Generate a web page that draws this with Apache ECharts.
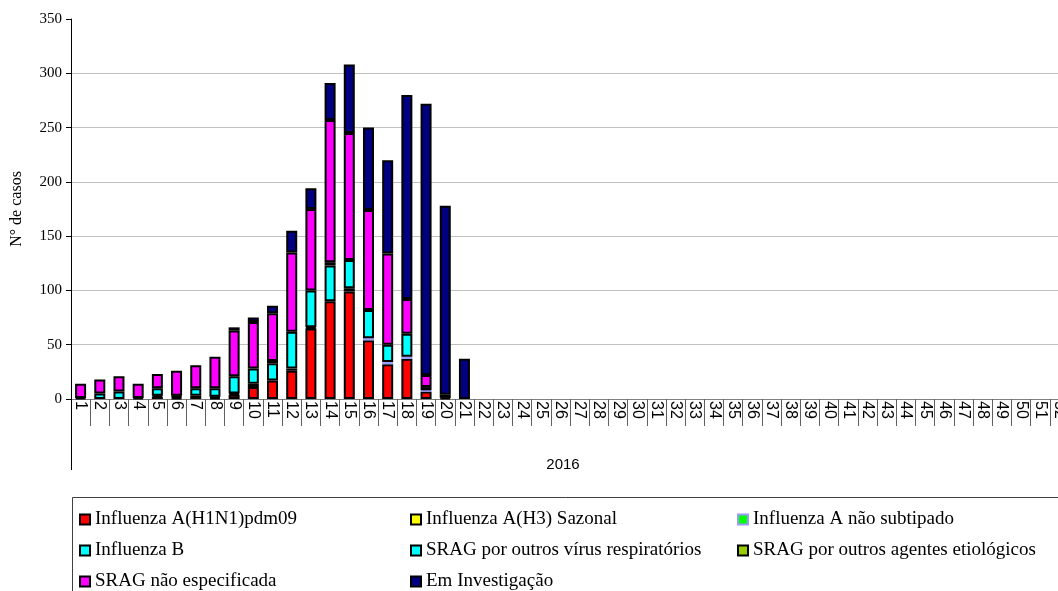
<!DOCTYPE html>
<html>
<head>
<meta charset="utf-8">
<script src="https://cdn.jsdelivr.net/npm/echarts@6/dist/echarts.min.js"></script>
<style>
html, body { margin: 0; padding: 0; background: #fff; }
#casosChart { width: 1058px; height: 591px; }
</style>
</head>
<body>
<div id="casosChart"></div>
<script>
// semanas epidemiologicas
var semanas = ['1','2','3','4','5','6','7','8','9','10','11','12','13','14','15','16','17','18','19','20',
    '21','22','23','24','25','26','27','28','29','30','31','32','33','34','35','36','37','38','39','40',
    '41','42','43','44','45','46','47','48','49','50','51','52'];
var anos = ['2016'];

// casos por semana (semanas 1-21)
var h1n1      = [1, 0, 0, 0, 2, 1, 3, 1, 4, 11, 17, 26, 65, 90, 99, 54, 32, 37, 7, 1, 0];
var h3        = [0, 0, 0, 0, 1, 0, 0, 1, 1, 3, 0, 2, 1, 0, 3, 0, 0, 0, 0, 0, 0];
var aNaoSub   = [0, 0, 0, 0, 0, 0, 0, 0, 0, 0, 0, 0, 0, 0, 0, 2, 2, 2, 1, 0, 0];
var fluB      = [0, 5, 7, 1, 7, 1, 7, 8, 16, 14, 16, 34, 34, 33, 26, 26, 16, 21, 0, 0, 0];
var outrosVir = [0, 0, 0, 0, 0, 0, 0, 0, 0, 0, 0, 0, 0, 0, 0, 0, 0, 0, 3, 0, 0];
var outrosAg  = [0, 0, 0, 0, 0, 1, 0, 0, 0, 0, 2, 0, 0, 3, 0, 0, 0, 0, 0, 0, 0];
var naoEsp    = [13, 13, 14, 13, 13, 23, 21, 29, 42, 43, 44, 73, 75, 131, 117, 92, 84, 32, 11, 3, 0];
var emInv     = [0, 0, 0, 0, 0, 0, 0, 0, 3, 4, 7, 20, 19, 34, 63, 76, 86, 188, 250, 174, 37];

var casosChart;
window.onload = function () {
    casosChart = echarts.init(document.getElementById('casosChart'), null, {renderer: 'canvas'});
    casosChart.setOption(casosOption());
};

// zero nao desenha segmento
function semZero(arr) {
    return arr.map(function (v) { return v === 0 ? '-' : v; });
}

function barSerie(name, data, color, border) {
    return {
        name: name,
        type: 'bar',
        stack: 'casos',
        barWidth: 11,
        data: semZero(data),
        itemStyle: {
            color: color,
            borderColor: border || '#000',
            borderWidth: 2
        },
        emphasis: {disabled: true}
    };
}

function legendCol(left, names) {
    return {
        orient: 'vertical',
        left: left,
        top: 505,
        height: 100,
        itemWidth: 10,
        itemHeight: 10,
        itemGap: 12,
        icon: 'rect',
        selectedMode: false,
        textStyle: {
            fontFamily: 'Liberation Serif',
            fontSize: 19,
            color: '#000'
        },
        data: names
    };
}

function casosOption() {
    var serif = 'Liberation Serif';
    var sans = 'Liberation Sans';
    return {
        animation: false,
        backgroundColor: '#fff',
        grid: {
            left: 71,
            top: 19,
            width: 998,
            height: 380,
            containLabel: false,
            outerBoundsMode: 'none'
        },
        legend: [
            legendCol(74, ['Influenza A(H1N1)pdm09', 'Influenza B', 'SRAG não especificada']),
            legendCol(405, ['Influenza A(H3) Sazonal', 'SRAG por outros vírus respiratórios', 'Em Investigação']),
            legendCol(732, ['Influenza A não subtipado', 'SRAG por outros agentes etiológicos'])
        ],
        graphic: [{
            type: 'rect',
            shape: {x: 72.5, y: 497.5, width: 1000, height: 110},
            style: {fill: 'none', stroke: '#404040', lineWidth: 1},
            silent: true
        }],
        xAxis: [{
            type: 'category',
            data: semanas,
            position: 'bottom',
            axisLine: {lineStyle: {color: '#808080', width: 1}},
            axisTick: {show: true, interval: 0, length: 27, lineStyle: {color: '#606060'}},
            axisLabel: {
                interval: 0,
                rotate: -90,
                margin: 2,
                fontFamily: sans,
                fontSize: 16,
                color: '#000'
            },
            splitLine: {show: false}
        }, {
            type: 'category',
            data: anos,
            position: 'bottom',
            axisLine: {show: false},
            axisTick: {show: true, length: 71, lineStyle: {color: '#000'}},
            axisLabel: {
                margin: 58,
                padding: [0, 14, 0, 0],
                fontFamily: sans,
                fontSize: 15,
                color: '#000'
            },
            splitLine: {show: false}
        }],
        yAxis: {
            type: 'value',
            min: 0,
            max: 350,
            interval: 50,
            name: 'N° de casos',
            nameLocation: 'middle',
            nameGap: 46,
            nameTextStyle: {fontFamily: serif, fontSize: 16, color: '#000'},
            axisLine: {show: true, lineStyle: {color: '#000'}},
            axisTick: {show: true, length: 5, lineStyle: {color: '#000'}},
            axisLabel: {fontFamily: serif, fontSize: 15, color: '#000', margin: 9},
            splitLine: {show: true, showMaxLine: false, lineStyle: {color: '#c0c0c0'}}
        },
        series: [
            barSerie('Influenza A(H1N1)pdm09', h1n1, '#ff0000'),
            barSerie('Influenza A(H3) Sazonal', h3, '#ffff00'),
            barSerie('Influenza A não subtipado', aNaoSub, '#00ff00', '#9999ff'),
            barSerie('Influenza B', fluB, '#00ffff'),
            barSerie('SRAG por outros vírus respiratórios', outrosVir, '#00ffff'),
            barSerie('SRAG por outros agentes etiológicos', outrosAg, '#99cc00'),
            barSerie('SRAG não especificada', naoEsp, '#ff00ff'),
            barSerie('Em Investigação', emInv, '#000080')
        ]
    };
}
</script>
</body>
</html>
